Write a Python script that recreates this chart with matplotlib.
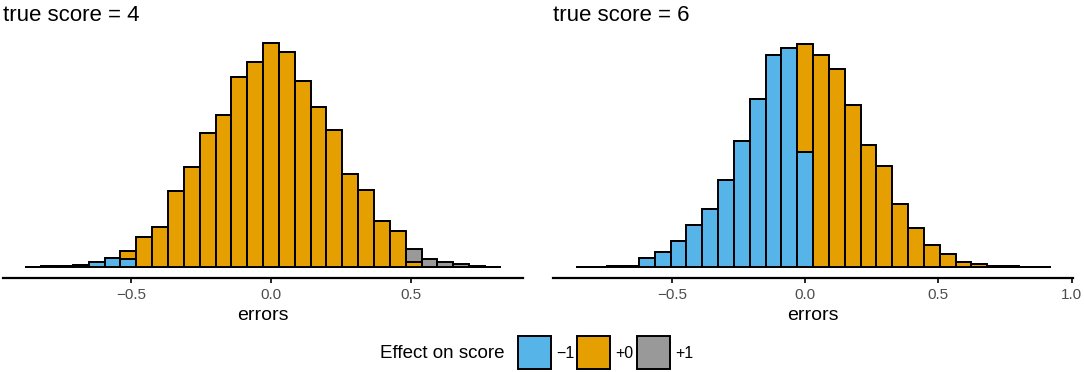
import matplotlib
matplotlib.use('Agg')
import matplotlib.pyplot as plt
import numpy as np
from matplotlib.patches import Rectangle

plt.rcParams['font.family'] = ['Liberation Sans', 'DejaVu Sans']

# -----------------------------------------------------------------------------
# Data (bar heights, arbitrary count units)
# -----------------------------------------------------------------------------
# true score = 4: 30 bins, centres k * width, k = -15..14
left_width = 0.0566
left_k = np.arange(-15, 15)
left_minus1 = [0.3, 0.5, 1.0, 2.0, 5.3, 9.3, 7.7, 0, 0, 0,
               0, 0, 0, 0, 0, 0, 0, 0, 0, 0,
               0, 0, 0, 0, 0, 0, 0, 0, 0, 0]
left_plus0 = [0, 0, 0, 0, 0, 0, 8.3, 29.7, 39.7, 76.0,
              100.3, 134.3, 152.0, 190.3, 205.0, 223.7, 215.0, 186.0, 159.7, 137.0,
              93.0, 77.3, 46.0, 36.3, 5.0, 0, 0, 0, 0, 0]
left_plus1 = [0, 0, 0, 0, 0, 0, 0, 0, 0, 0,
              0, 0, 0, 0, 0, 0, 0, 0, 0, 0,
              0, 0, 0, 0, 12.4, 7.4, 5.0, 3.3, 0.7, 0.3]

# true score = 6: 30 bins, k = -14..15
right_width = 0.0594
right_k = np.arange(-14, 16)
right_minus1 = [0.2, 0.3, 1.0, 1.3, 9.0, 15.0, 26.0, 42.3, 58.3, 86.7,
                126.0, 168.3, 211.7, 219.3, 115.0, 0, 0, 0, 0, 0,
                0, 0, 0, 0, 0, 0, 0, 0, 0, 0]
right_plus0 = [0, 0, 0, 0, 0, 0, 0, 0, 0, 0,
               0, 0, 0, 0, 108.3, 212.3, 197.7, 161.7, 122.3, 101.0,
               63.3, 39.3, 21.7, 12.7, 5.0, 3.3, 0.7, 0.5, 0.2, 0.2]
right_plus1 = [0] * 30

effect_labels = ['\u22121', '+0', '+1']
effect_colors = ['#56B4E9', '#E69F00', '#999999']

W, H = 1084, 372
YMAX = 223.7

fig = plt.figure(figsize=(W / 100, H / 100), dpi=100)

panels = [
    dict(title='true score = 4', k=left_k, width=left_width,
         groups=[left_minus1, left_plus0, left_plus1],
         box=(3, 523), xlim=(-0.957, 0.900),
         ticks=[-0.5, 0.0, 0.5]),
    dict(title='true score = 6', k=right_k, width=right_width,
         groups=[right_minus1, right_plus0, right_plus1],
         box=(553, 1073), xlim=(-0.946, 1.005),
         ticks=[-0.5, 0.0, 0.5, 1.0]),
]

top_px, bot_px = 32, 278
for p in panels:
    x0, x1 = p['box']
    ax = fig.add_axes([x0 / W, 1 - bot_px / H, (x1 - x0) / W, (bot_px - top_px) / H])
    centres = p['k'] * p['width']
    bottom = np.zeros(len(centres))
    for vals, col in zip(p['groups'], effect_colors):
        vals = np.array(vals, dtype=float)
        ax.bar(centres, vals, width=p['width'], bottom=bottom, color=col,
               edgecolor='black', linewidth=1.4, align='center')
        bottom += vals
    ax.set_xlim(*p['xlim'])
    ax.set_ylim(-0.05 * YMAX, 1.05 * YMAX)
    for s in ['left', 'right', 'top']:
        ax.spines[s].set_visible(False)
    ax.spines['bottom'].set_linewidth(1.6)
    ax.set_yticks([])
    ax.set_xticks(p['ticks'])
    ax.set_xticklabels([f'{t:.1f}'.replace('-', '\u2212') for t in p['ticks']])
    ax.tick_params(axis='x', length=3.5, width=1.2, pad=4, labelsize=11,
                   labelcolor='#4D4D4D')
    ax.set_xlabel('errors', fontsize=14, labelpad=3)
    ax.set_title(p['title'], loc='left', fontsize=16, pad=8)

# legend drawn by hand at the bottom
fig.text(380 / W, 1 - 354 / H, 'Effect on score', fontsize=13.5,
         va='center', ha='left')
key_x = [518, 577, 637]
for kx, col, lab in zip(key_x, effect_colors, effect_labels):
    fig.add_artist(Rectangle((kx / W, 1 - 369 / H), 33 / W, 33 / H,
                             transform=fig.transFigure, facecolor=col,
                             edgecolor='black', linewidth=1.4))
    fig.text((kx + 38) / W, 1 - 354 / H, lab, fontsize=11.5, va='center', ha='left')

fig.savefig('out.png', dpi=100)
